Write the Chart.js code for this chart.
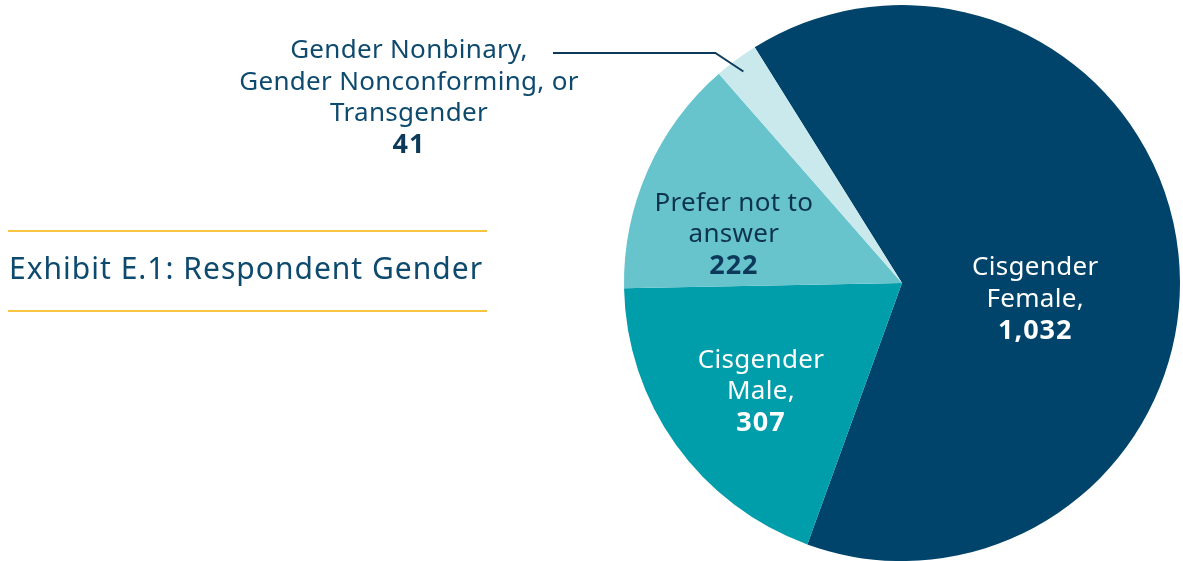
<!DOCTYPE html>
<html>
<head>
<meta charset="utf-8">
<script src="https://cdn.jsdelivr.net/npm/chart.js@4/dist/chart.umd.min.js"></script>
<style>
  html, body { margin: 0; padding: 0; background: #fff; }
  #wrap { position: relative; width: 1183px; height: 561px; }
</style>
</head>
<body>
<div id="wrap"><canvas id="myChart" width="1183" height="561"></canvas></div>
<script>
var categories = ['Cisgender Female', 'Cisgender Male', 'Prefer not to answer', 'Gender Nonbinary, Gender Nonconforming, or Transgender'];
var counts = [1032, 307, 222, 41];
var labelLines = [
    ['Cisgender', 'Female,'],
    ['Cisgender', 'Male,'],
    ['Prefer not to', 'answer'],
    ['Gender Nonbinary,', 'Gender Nonconforming, or', 'Transgender']
];
var sliceColors = ['#00446b', '#009daa', '#67c4cc', '#c9e9ec'];
var textColors = ['#ffffff', '#ffffff', '#0d3350', '#0d4a6e'];

var FONT = '"Noto Sans", sans-serif';
var navy = '#0d4a6e';

// label block centres, offset from each slice's tooltip point
var labelOffsets = [[-5, 31], [-28, 28], [-41, 8], [null, null]];

var labelPlugin = {
    id: 'sliceLabels',
    afterDraw: function (chart) {
        var ctx = chart.ctx;
        var arcs = chart.getDatasetMeta(0).data;
        ctx.save();
        ctx.textAlign = 'center';
        ctx.textBaseline = 'middle';
        var lh = 31.5;
        for (var i = 0; i < arcs.length; i++) {
            var lines = labelLines[i].slice();
            var num = counts[i].toLocaleString('en-US');
            var cx, cy;
            if (i === 3) {
                cx = 409; cy = 98;
            } else {
                var p = arcs[i].tooltipPosition();
                cx = p.x + labelOffsets[i][0];
                cy = p.y + labelOffsets[i][1];
            }
            var total = lines.length + 1;
            var y0 = cy - (total - 1) * lh / 2;
            ctx.fillStyle = textColors[i];
            ctx.letterSpacing = '0.3px';
            ctx.font = '26px ' + FONT;
            for (var j = 0; j < lines.length; j++) {
                ctx.fillText(lines[j], cx, y0 + j * lh);
            }
            ctx.letterSpacing = '1px';
            ctx.font = 'bold 27px ' + FONT;
            if (i === 3 || i === 2) ctx.fillStyle = '#0d3a5a';
            ctx.fillText(num, cx, y0 + lines.length * lh);
        }

        // leader line to the small slice
        var a = arcs[3];
        var mid = (a.startAngle + a.endAngle) / 2;
        var r = a.outerRadius - 12;
        var ex = a.x + Math.cos(mid) * r;
        var ey = a.y + Math.sin(mid) * r;
        ctx.strokeStyle = '#0d3a5a';
        ctx.lineWidth = 2;
        ctx.beginPath();
        ctx.moveTo(553, 53);
        ctx.lineTo(ex - 28, 53);
        ctx.lineTo(ex, ey + 2);
        ctx.stroke();

        // title with rules
        ctx.strokeStyle = '#f8c441';
        ctx.lineWidth = 2;
        ctx.beginPath();
        ctx.moveTo(8, 231); ctx.lineTo(487, 231);
        ctx.moveTo(8, 311); ctx.lineTo(487, 311);
        ctx.stroke();
        ctx.textAlign = 'left';
        ctx.fillStyle = navy;
        ctx.letterSpacing = '1px';
        ctx.font = '30px ' + FONT;
        ctx.fillText('Exhibit E.1: Respondent Gender', 9, 270);
        ctx.restore();
    }
};

var ctx = document.getElementById('myChart').getContext('2d');
var myChart = new Chart(ctx, {
    type: 'pie',
    data: {
        labels: categories,
        datasets: [{
            data: counts,
            backgroundColor: sliceColors,
            borderWidth: 0
        }]
    },
    options: {
        responsive: false,
        animation: false,
        rotation: -32,
        layout: { padding: { left: 624, right: 3, top: 5, bottom: 0 } },
        plugins: {
            legend: { display: false },
            tooltip: { enabled: false }
        }
    },
    plugins: [labelPlugin]
});
</script>
</body>
</html>
